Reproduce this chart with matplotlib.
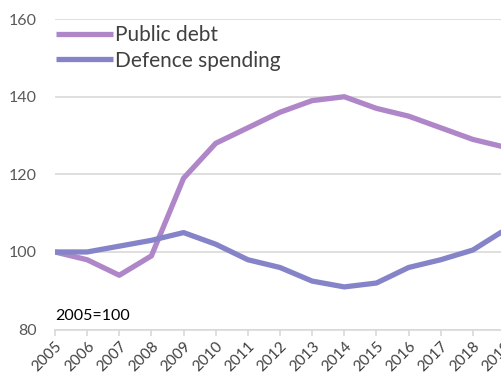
import numpy as np
import matplotlib
matplotlib.use("Agg")
import matplotlib.pyplot as plt

years = list(range(2005, 2020))
public_debt = [100, 98, 94, 99, 119, 128, 132, 136, 139, 140, 137, 135, 132, 129, 127]
defence = [100, 100, 101.5, 103, 105, 102, 98, 96, 92.5, 91, 92, 96, 98, 100.5, 105.7]

debt_col = "#AF86C8"
def_col = "#8684C8"
grid_col = "#D9D9D9"

plt.rcParams["font.family"] = ["Lato", "DejaVu Sans"]

fig = plt.figure(figsize=(5.02, 3.76), dpi=100)
# plot area runs past the right edge, so the last year is clipped
ax = fig.add_axes([55 / 502, 46.4 / 376, 450 / 502, 310.5 / 376])

ax.plot(years, public_debt, color=debt_col, lw=3.8, solid_capstyle="butt",
        label="Public debt", zorder=3)
ax.plot(years, defence, color=def_col, lw=3.8, solid_capstyle="butt",
        label="Defence spending", zorder=3)

ax.set_xlim(2005, 2019)
ax.set_ylim(80, 160)
ax.set_yticks([80, 100, 120, 140, 160])
ax.yaxis.grid(True, color=grid_col, lw=1.2)
ax.set_axisbelow(True)
for s in ["top", "right", "left"]:
    ax.spines[s].set_visible(False)
ax.spines["bottom"].set_color(grid_col)
ax.spines["bottom"].set_linewidth(1.2)
ax.tick_params(axis="y", length=0, pad=13, labelsize=11.5, labelcolor="#595959")
ax.tick_params(axis="x", length=4, width=1.2, color=grid_col, pad=3)
ax.set_xticks(years)
ax.set_xticklabels([str(y) for y in years], rotation=45, ha="right",
                   rotation_mode="anchor", fontsize=11, color="#404040")

ax.text(2005, 81.6, "2005=100", fontsize=11.5, color="black", va="bottom")

leg = ax.legend(loc="upper left", bbox_to_anchor=(-0.022, 1.015), frameon=False,
                fontsize=15, handlelength=2.75, handletextpad=0.12,
                labelspacing=0.28, borderaxespad=0.1)
for t in leg.get_texts():
    t.set_color("#404040")

# heading sits just above the top edge, only its descenders show
fig.text(0.065, 1 + 3.5 / 376, "Spending and public debt since 2005",
         fontsize=14, fontweight="bold", color="#7030A0", va="baseline")

fig.savefig("out.png", dpi=100)
